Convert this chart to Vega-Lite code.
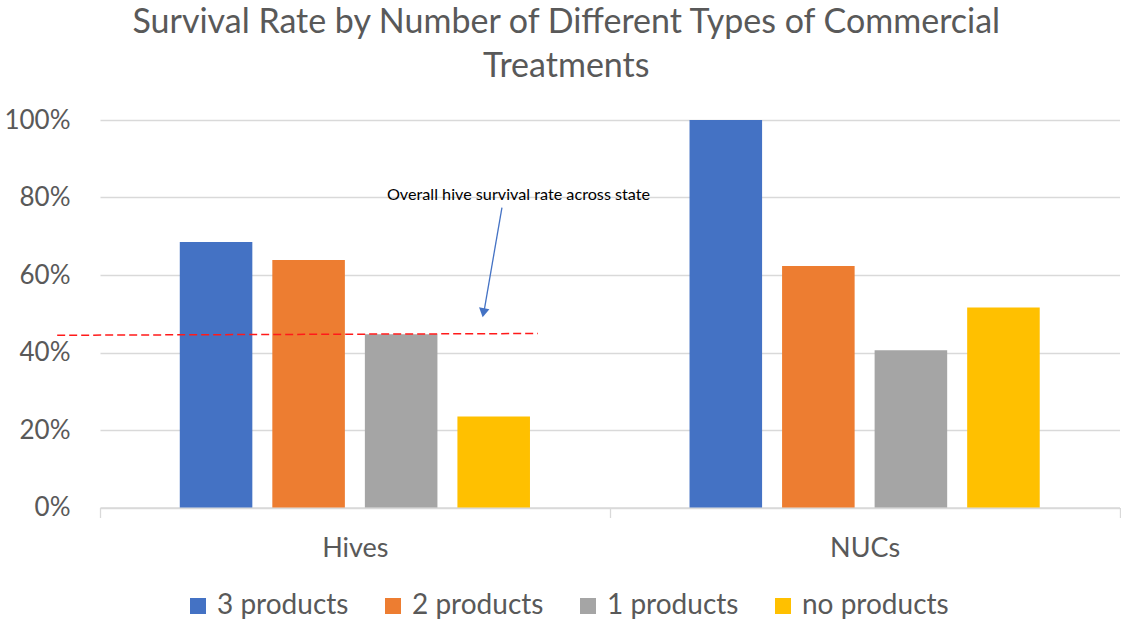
{
  "$schema": "https://vega.github.io/schema/vega-lite/v6.json",
  "width": 1019.5,
  "height": 387.5,
  "autosize": "none",
  "padding": {"left": 100, "top": 120, "right": 1.5, "bottom": 113.5},
  "background": "white",
  "title": {
    "text": ["Survival Rate by Number of Different Types of Commercial", "Treatments"],
    "font": "Lato",
    "fontSize": 34,
    "fontWeight": "normal",
    "color": "#595959",
    "anchor": "middle",
    "frame": "bounds",
    "lineHeight": 44,
    "offset": 23,
    "dx": 4
  },
  "config": {
    "view": {"stroke": null},
    "font": "Lato"
  },
  "datasets": {
    "rates": [
      {"group": "Hives", "product": "3 products", "rate": 0.685},
      {"group": "Hives", "product": "2 products", "rate": 0.639},
      {"group": "Hives", "product": "1 products", "rate": 0.447},
      {"group": "Hives", "product": "no products", "rate": 0.235},
      {"group": "NUCs", "product": "3 products", "rate": 1.0},
      {"group": "NUCs", "product": "2 products", "rate": 0.623},
      {"group": "NUCs", "product": "1 products", "rate": 0.406},
      {"group": "NUCs", "product": "no products", "rate": 0.516}
    ],
    "stateLine": [
      {"ax": -0.584, "ay": 0.4445},
      {"ax": 0.359, "ay": 0.449}
    ],
    "arrowShaft": [
      {"ax": 0.2885, "ay": 0.774},
      {"ax": 0.2532, "ay": 0.505}
    ],
    "arrowHead": [
      {"ax": 0.2522, "ay": 0.5026}
    ],
    "note": [
      {"ax": 0.321, "ay": 0.8075, "label": "Overall hive survival rate across state"}
    ]
  },
  "resolve": {"scale": {"x": "independent"}},
  "layer": [
    {
      "data": {"name": "rates"},
      "mark": {"type": "bar"},
      "encoding": {
        "x": {
          "field": "group",
          "type": "nominal",
          "scale": {"paddingInner": 0, "paddingOuter": 0},
          "axis": {
            "title": null,
            "labelAngle": 0,
            "labelFont": "Lato",
            "labelFontSize": 27,
            "labelColor": "#595959",
            "labelPadding": 18,
            "domainColor": "#d9d9d9",
            "domainWidth": 1.3,
            "tickColor": "#d9d9d9",
            "tickWidth": 1.3,
            "tickSize": 10,
            "tickBand": "extent"
          }
        },
        "xOffset": {
          "field": "product",
          "type": "nominal",
          "sort": ["3 products", "2 products", "1 products", "no products"],
          "scale": {"paddingInner": 0.216, "paddingOuter": 0.862}
        },
        "y": {
          "field": "rate",
          "type": "quantitative",
          "scale": {"domain": [0, 1], "nice": false},
          "axis": {
            "title": null,
            "values": [0, 0.2, 0.4, 0.6, 0.8, 1],
            "format": ".0%",
            "labelFont": "Lato",
            "labelFontSize": 26,
            "labelColor": "#595959",
            "labelPadding": 30,
            "domain": false,
            "ticks": false,
            "gridColor": "#d9d9d9",
            "gridWidth": 1.3
          }
        },
        "color": {
          "field": "product",
          "type": "nominal",
          "sort": ["3 products", "2 products", "1 products", "no products"],
          "scale": {
            "domain": ["3 products", "2 products", "1 products", "no products"],
            "range": ["#4472C4", "#ED7D31", "#A5A5A5", "#FFC000"]
          },
          "legend": {
            "title": null,
            "orient": "none",
            "direction": "horizontal",
            "legendX": 84,
            "legendY": 472,
            "symbolType": "square",
            "symbolSize": 256,
            "symbolStrokeWidth": 0,
            "labelFont": "Lato",
            "labelFontSize": 28,
            "labelColor": "#595959",
            "labelOffset": 5,
            "columnPadding": 30
          }
        }
      }
    },
    {
      "data": {"name": "stateLine"},
      "mark": {"type": "line", "color": "#FF1A1A", "strokeWidth": 1.5, "strokeDash": [8, 4]},
      "encoding": {
        "x": {"field": "ax", "type": "quantitative", "scale": {"domain": [-0.5, 1.5], "nice": false, "zero": false}, "axis": null},
        "y": {"field": "ay", "type": "quantitative"}
      }
    },
    {
      "data": {"name": "arrowShaft"},
      "mark": {"type": "line", "color": "#4472C4", "strokeWidth": 1.3},
      "encoding": {
        "x": {"field": "ax", "type": "quantitative", "scale": {"domain": [-0.5, 1.5], "nice": false, "zero": false}, "axis": null},
        "y": {"field": "ay", "type": "quantitative"}
      }
    },
    {
      "data": {"name": "arrowHead"},
      "mark": {"type": "point", "shape": "triangle-down", "filled": true, "color": "#4472C4", "size": 110, "opacity": 1, "angle": 10},
      "encoding": {
        "x": {"field": "ax", "type": "quantitative", "scale": {"domain": [-0.5, 1.5], "nice": false, "zero": false}, "axis": null},
        "y": {"field": "ay", "type": "quantitative"}
      }
    },
    {
      "data": {"name": "note"},
      "mark": {"type": "text", "font": "Lato", "fontSize": 16.2, "color": "#000000", "align": "center", "baseline": "middle"},
      "encoding": {
        "x": {"field": "ax", "type": "quantitative", "scale": {"domain": [-0.5, 1.5], "nice": false, "zero": false}, "axis": null},
        "y": {"field": "ay", "type": "quantitative"},
        "text": {"field": "label"}
      }
    }
  ]
}
